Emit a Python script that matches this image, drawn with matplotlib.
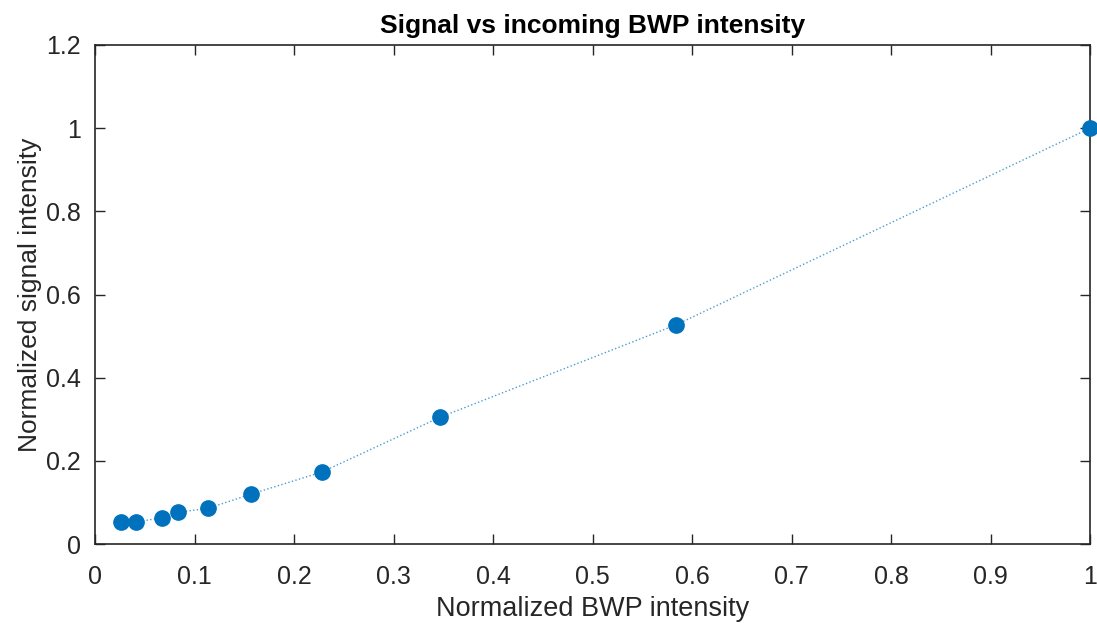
import numpy as np
import matplotlib.pyplot as plt

# data
bwp = [0.026, 0.0415, 0.067, 0.083, 0.114, 0.157, 0.228, 0.347, 0.584, 1.0]
signal = [0.053, 0.053, 0.063, 0.076, 0.086, 0.120, 0.173, 0.305, 0.527, 1.0]

x_ticks = ['0', '0.1', '0.2', '0.3', '0.4', '0.5', '0.6', '0.7', '0.8', '0.9', '1']
y_ticks = ['0', '0.2', '0.4', '0.6', '0.8', '1', '1.2']

plt.rcParams['font.family'] = ['Liberation Sans', 'DejaVu Sans']

fig = plt.figure(figsize=(10.97, 6.23), dpi=100)
ax = fig.add_axes([95 / 1097, 1 - 544 / 623, 995 / 1097, 499 / 623])

blue = '#0072BD'
ax.plot(bwp, signal, ':', color=blue, lw=1.0, alpha=0.7, zorder=2)
ax.plot(bwp, signal, 'o', color=blue, ms=11, mec=blue, zorder=3, clip_on=False)

ax.set_xlim(0, 1)
ax.set_ylim(0, 1.2)
ax.set_xticks(np.arange(0, 1.01, 0.1))
ax.set_xticklabels(x_ticks)
ax.set_yticks(np.arange(0, 1.21, 0.2))
ax.set_yticklabels(y_ticks)

ax.tick_params(direction='in', top=True, right=True, length=7, width=1,
               labelsize=18, colors='#262626')
ax.tick_params(axis='x', pad=15)
ax.tick_params(axis='y', pad=10)
for s in ax.spines.values():
    s.set_color('#262626')
    s.set_linewidth(1.2)

ax.set_xlabel('Normalized BWP intensity', fontsize=19.5, color='#262626', labelpad=5)
ax.set_ylabel('Normalized signal intensity', fontsize=19, color='#262626', labelpad=3)
ax.set_title('Signal vs incoming BWP intensity', fontsize=19, fontweight='bold', pad=9)

fig.savefig('out.png', dpi=100)
